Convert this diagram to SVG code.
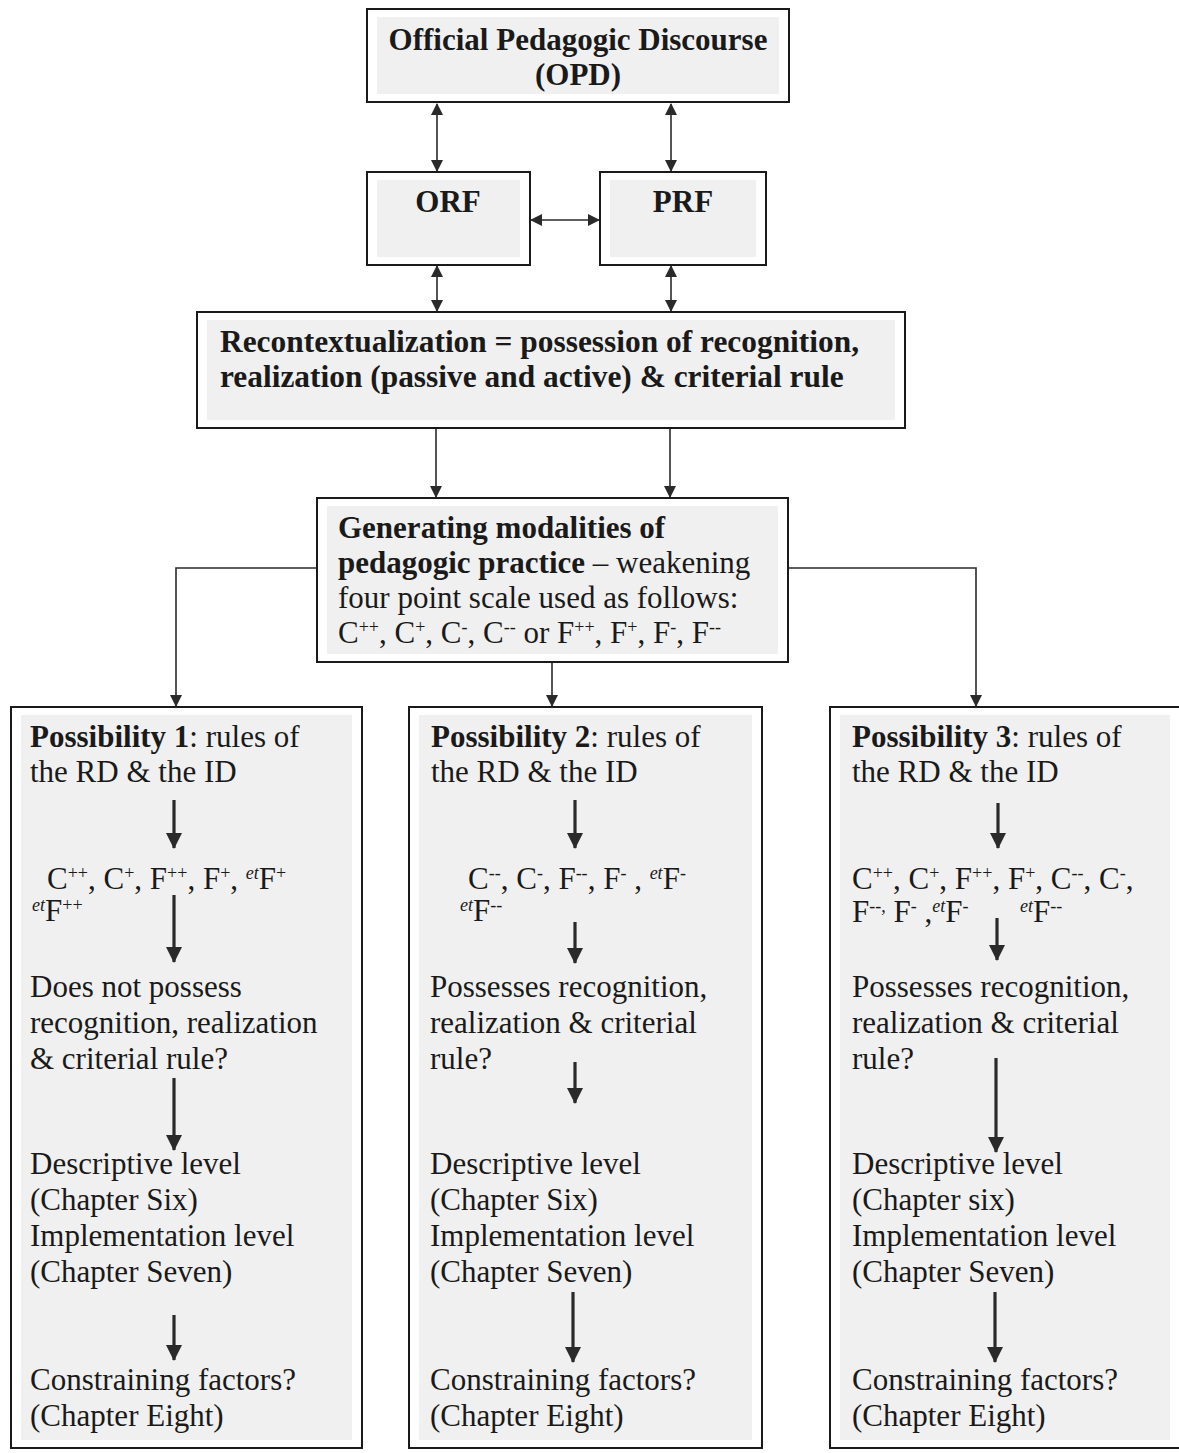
<svg xmlns="http://www.w3.org/2000/svg" width="1179" height="1453" viewBox="0 0 1179 1453">
<style>
text{font-family:"Liberation Serif","Times New Roman",serif;font-size:31px;fill:#1a1a1a}
.b{font-weight:bold}
.c{text-anchor:middle}
.sup{font-size:18px}
.i{font-style:italic}
.box{fill:#ffffff;stroke:#1a1a1a;stroke-width:2}
.shade{fill:#f0f0f0}
.con{fill:none;stroke:#2a2a2a;stroke-width:1.6}
.thick{fill:none;stroke:#2a2a2a;stroke-width:3.2}
</style>
<defs>
<marker id="ah" viewBox="0 0 12 12" refX="11" refY="6" markerWidth="12" markerHeight="12" markerUnits="userSpaceOnUse" orient="auto-start-reverse"><path d="M0,0 L12,6 L0,12 z" fill="#2a2a2a"/></marker>
<marker id="ahb" viewBox="0 0 16 16" refX="15" refY="8" markerWidth="16" markerHeight="16" markerUnits="userSpaceOnUse" orient="auto"><path d="M0,0 L16,8 L0,16 z" fill="#2a2a2a"/></marker>
</defs>
<rect width="1179" height="1453" fill="#ffffff"/>

<g id="connectors">
<line class="con" x1="437" y1="104" x2="437" y2="171" marker-start="url(#ah)" marker-end="url(#ah)"/>
<line class="con" x1="671" y1="104" x2="671" y2="171" marker-start="url(#ah)" marker-end="url(#ah)"/>
<line class="con" x1="531" y1="220" x2="599" y2="220" marker-start="url(#ah)" marker-end="url(#ah)"/>
<line class="con" x1="437" y1="266" x2="437" y2="311" marker-start="url(#ah)" marker-end="url(#ah)"/>
<line class="con" x1="671" y1="266" x2="671" y2="311" marker-start="url(#ah)" marker-end="url(#ah)"/>
<line class="con" x1="436" y1="429" x2="436" y2="497" marker-end="url(#ah)"/>
<line class="con" x1="670" y1="429" x2="670" y2="497" marker-end="url(#ah)"/>
<polyline class="con" points="317,568 176,568 176,706" marker-end="url(#ah)"/>
<polyline class="con" points="788,568 976,568 976,706" marker-end="url(#ah)"/>
<line class="con" x1="552" y1="662" x2="552" y2="706" marker-end="url(#ah)"/>
</g>

<g id="opd">
<rect class="box" x="367" y="9" width="422" height="93"/>
<rect class="shade" x="377" y="17" width="402" height="77"/>
<text class="b c" x="578" y="50">Official Pedagogic Discourse</text>
<text class="b c" x="578" y="85">(OPD)</text>
</g>

<g id="orf">
<rect class="box" x="367" y="172" width="163" height="93"/>
<rect class="shade" x="377" y="180" width="143" height="77"/>
<text class="b c" x="448" y="212">ORF</text>
</g>

<g id="prf">
<rect class="box" x="600" y="172" width="166" height="93"/>
<rect class="shade" x="610" y="180" width="146" height="77"/>
<text class="b c" x="683" y="212">PRF</text>
</g>

<g id="recontextualization">
<rect class="box" x="197" y="312" width="708" height="116"/>
<rect class="shade" x="207" y="320" width="688" height="100"/>
<text class="b" x="220" y="352" style="font-size:31.4px">Recontextualization = possession of recognition,</text>
<text class="b" x="220" y="387" style="font-size:31.4px">realization (passive and active) &amp; criterial rule</text>
</g>

<g id="generating">
<rect class="box" x="317" y="498" width="471" height="164"/>
<rect class="shade" x="327" y="506" width="451" height="148"/>
<text class="b" x="338" y="538">Generating modalities of</text>
<text x="338" y="573"><tspan class="b">pedagogic practice</tspan> – weakening</text>
<text x="338" y="608">four point scale used as follows:</text>
<text x="338" y="643">C<tspan class="sup" dy="-10">++</tspan><tspan dy="10">, C</tspan><tspan class="sup" dy="-10">+</tspan><tspan dy="10">, C</tspan><tspan class="sup" dy="-10">-</tspan><tspan dy="10">, C</tspan><tspan class="sup" dy="-10">--</tspan><tspan dy="10"> or F</tspan><tspan class="sup" dy="-10">++</tspan><tspan dy="10">, F</tspan><tspan class="sup" dy="-10">+</tspan><tspan dy="10">, F</tspan><tspan class="sup" dy="-10">-</tspan><tspan dy="10">, F</tspan><tspan class="sup" dy="-10">--</tspan></text>
</g>

<g id="possibility1">
<rect class="box" x="11" y="707" width="351" height="741"/>
<rect class="shade" x="21" y="715" width="331" height="725"/>
<text x="30" y="747"><tspan class="b">Possibility 1</tspan>: rules of</text>
<text x="30" y="782">the RD &amp; the ID</text>
<line class="thick" x1="174" y1="800" x2="174" y2="848" marker-end="url(#ahb)"/>
<text x="47" y="889">C<tspan class="sup" dy="-10">++</tspan><tspan dy="10">, C</tspan><tspan class="sup" dy="-10">+</tspan><tspan dy="10">, F</tspan><tspan class="sup" dy="-10">++</tspan><tspan dy="10">, F</tspan><tspan class="sup" dy="-10">+</tspan><tspan dy="10">, </tspan><tspan class="sup i" dy="-10">et</tspan><tspan dy="10">F</tspan><tspan class="sup" dy="-10">+</tspan></text>
<text x="32" y="921"><tspan class="sup i" dy="-10">et</tspan><tspan dy="10">F</tspan><tspan class="sup" dy="-10">++</tspan></text>
<line class="thick" x1="174" y1="895" x2="174" y2="962" marker-end="url(#ahb)"/>
<text x="30" y="997">Does not possess</text>
<text x="30" y="1033">recognition, realization</text>
<text x="30" y="1069">&amp; criterial rule?</text>
<line class="thick" x1="174" y1="1078" x2="174" y2="1150" marker-end="url(#ahb)"/>
<text x="30" y="1174">Descriptive level</text>
<text x="30" y="1210">(Chapter Six)</text>
<text x="30" y="1246">Implementation level</text>
<text x="30" y="1282">(Chapter Seven)</text>
<line class="thick" x1="174" y1="1315" x2="174" y2="1360" marker-end="url(#ahb)"/>
<text x="30" y="1390">Constraining factors?</text>
<text x="30" y="1426">(Chapter Eight)</text>
</g>

<g id="possibility2">
<rect class="box" x="409" y="707" width="353" height="741"/>
<rect class="shade" x="419" y="715" width="333" height="725"/>
<text x="431" y="747"><tspan class="b">Possibility 2</tspan>: rules of</text>
<text x="431" y="782">the RD &amp; the ID</text>
<line class="thick" x1="575" y1="800" x2="575" y2="848" marker-end="url(#ahb)"/>
<text x="468" y="889">C<tspan class="sup" dy="-10">--</tspan><tspan dy="10">, C</tspan><tspan class="sup" dy="-10">-</tspan><tspan dy="10">, F</tspan><tspan class="sup" dy="-10">--</tspan><tspan dy="10">, F</tspan><tspan class="sup" dy="-10">-</tspan><tspan dy="10"> , </tspan><tspan class="sup i" dy="-10">et</tspan><tspan dy="10">F</tspan><tspan class="sup" dy="-10">-</tspan></text>
<text x="460" y="921"><tspan class="sup i" dy="-10">et</tspan><tspan dy="10">F</tspan><tspan class="sup" dy="-10">--</tspan></text>
<line class="thick" x1="575" y1="922" x2="575" y2="963" marker-end="url(#ahb)"/>
<text x="430" y="997">Possesses recognition,</text>
<text x="430" y="1033">realization &amp; criterial</text>
<text x="430" y="1069">rule?</text>
<line class="thick" x1="575" y1="1062" x2="575" y2="1103" marker-end="url(#ahb)"/>
<text x="430" y="1174">Descriptive level</text>
<text x="430" y="1210">(Chapter Six)</text>
<text x="430" y="1246">Implementation level</text>
<text x="430" y="1282">(Chapter Seven)</text>
<line class="thick" x1="573" y1="1292" x2="573" y2="1362" marker-end="url(#ahb)"/>
<text x="430" y="1390">Constraining factors?</text>
<text x="430" y="1426">(Chapter Eight)</text>
</g>

<g id="possibility3">
<rect class="box" x="830" y="707" width="360" height="741"/>
<rect class="shade" x="840" y="715" width="330" height="725"/>
<text x="852" y="747"><tspan class="b">Possibility 3</tspan>: rules of</text>
<text x="852" y="782">the RD &amp; the ID</text>
<line class="thick" x1="998" y1="803" x2="998" y2="848" marker-end="url(#ahb)"/>
<text x="852" y="889">C<tspan class="sup" dy="-10">++</tspan><tspan dy="10">, C</tspan><tspan class="sup" dy="-10">+</tspan><tspan dy="10">, F</tspan><tspan class="sup" dy="-10">++</tspan><tspan dy="10">, F</tspan><tspan class="sup" dy="-10">+</tspan><tspan dy="10">, C</tspan><tspan class="sup" dy="-10">--</tspan><tspan dy="10">, C</tspan><tspan class="sup" dy="-10">-</tspan><tspan dy="10">,</tspan></text>
<text x="852" y="922">F<tspan class="sup" dy="-10">--,</tspan><tspan dy="10"> F</tspan><tspan class="sup" dy="-10">-</tspan><tspan dy="10"> ,</tspan><tspan class="sup i" dy="-10">et</tspan><tspan dy="10">F</tspan><tspan class="sup" dy="-10">-</tspan></text>
<text x="1020" y="922"><tspan class="sup i" dy="-10">et</tspan><tspan dy="10">F</tspan><tspan class="sup" dy="-10">--</tspan></text>
<line class="thick" x1="997" y1="918" x2="997" y2="960" marker-end="url(#ahb)"/>
<text x="852" y="997">Possesses recognition,</text>
<text x="852" y="1033">realization &amp; criterial</text>
<text x="852" y="1069">rule?</text>
<line class="thick" x1="996" y1="1058" x2="996" y2="1152" marker-end="url(#ahb)"/>
<text x="852" y="1174">Descriptive level</text>
<text x="852" y="1210">(Chapter six)</text>
<text x="852" y="1246">Implementation level</text>
<text x="852" y="1282">(Chapter Seven)</text>
<line class="thick" x1="995" y1="1292" x2="995" y2="1362" marker-end="url(#ahb)"/>
<text x="852" y="1390">Constraining factors?</text>
<text x="852" y="1426">(Chapter Eight)</text>
</g>
</svg>
